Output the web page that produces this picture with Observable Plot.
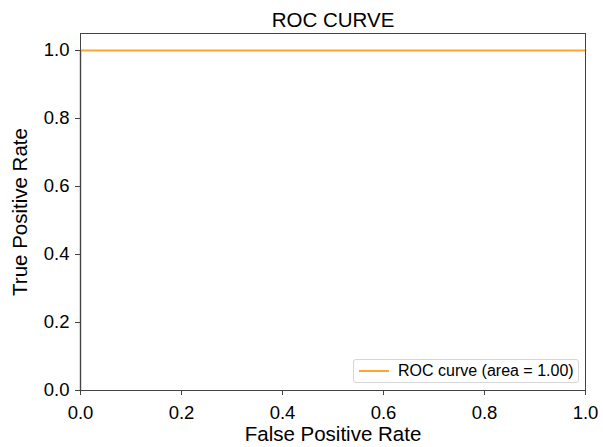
<!DOCTYPE html>
<html>
<head>
<meta charset="utf-8">
<script src="https://cdn.jsdelivr.net/npm/d3@7"></script>
<script src="https://cdn.jsdelivr.net/npm/@observablehq/plot@0.6"></script>
<style>
  html, body { margin: 0; padding: 0; background: #fff; }
  #wrap { position: relative; width: 603px; height: 447px; font-family: "Liberation Sans", Arial, sans-serif; }
  #legend { position: absolute; left: 353px; top: 359px; width: 226px; height: 24px; box-sizing: border-box;
    border: 1px solid #d6d6d6; border-radius: 3px; background: rgba(255,255,255,0.8);
    display: flex; align-items: center; font-size: 16px; color: #000; white-space: nowrap; }
  #legend .sw { display: inline-block; width: 30px; border-top: 2px solid #ffa530; margin-left: 5px; margin-right: 9px; }
</style>
</head>
<body>
<div id="wrap"></div>
<script>
const fpr = [0, 0, 1];
const tpr = [0, 1, 1];
const tickValues = [0, 0.2, 0.4, 0.6, 0.8, 1.0];
const titleText = "ROC CURVE";
const xLabel = "False Positive Rate";
const yLabel = "True Positive Rate";
const legendLabel = "ROC curve (area = 1.00)";

const pts = fpr.map((f, i) => ({fpr: f, tpr: tpr[i]}));

const chart = Plot.plot({
  width: 603,
  height: 447,
  marginLeft: 80,
  marginRight: 18,
  marginTop: 33,
  marginBottom: 57,
  style: {fontFamily: "Liberation Sans, Arial, sans-serif", color: "#000", background: "#fff"},
  x: {domain: [0, 1]},
  y: {domain: [0, 1.05]},
  marks: [
    Plot.line(pts, {x: "fpr", y: "tpr", stroke: "#ffa530", strokeWidth: 2}),
    Plot.frame({stroke: "#444", strokeWidth: 1}),
    Plot.axisX({ticks: tickValues, tickFormat: d3.format(".1f"), tickSize: 5, tickPadding: 10, fontSize: 18.5, label: null, stroke: "#444"}),
    Plot.axisY({ticks: tickValues, tickFormat: d3.format(".1f"), tickSize: 5, tickPadding: 6, fontSize: 18.5, label: null, stroke: "#444"}),
    Plot.text([titleText], {frameAnchor: "top", lineAnchor: "middle", dy: -13, fontSize: 20.5, text: d => d}),
    Plot.text([xLabel], {frameAnchor: "bottom", lineAnchor: "middle", dy: 43.5, fontSize: 20.5, text: d => d}),
    Plot.text([yLabel], {frameAnchor: "left", textAnchor: "middle", lineAnchor: "middle", dx: -60, rotate: -90, fontSize: 20.5, text: d => d})
  ]
});

const wrap = document.getElementById("wrap");
wrap.appendChild(chart);
const leg = document.createElement("div");
leg.id = "legend";
leg.innerHTML = '<span class="sw"></span><span></span>';
leg.lastChild.textContent = legendLabel;
wrap.appendChild(leg);
</script>
</body>
</html>
